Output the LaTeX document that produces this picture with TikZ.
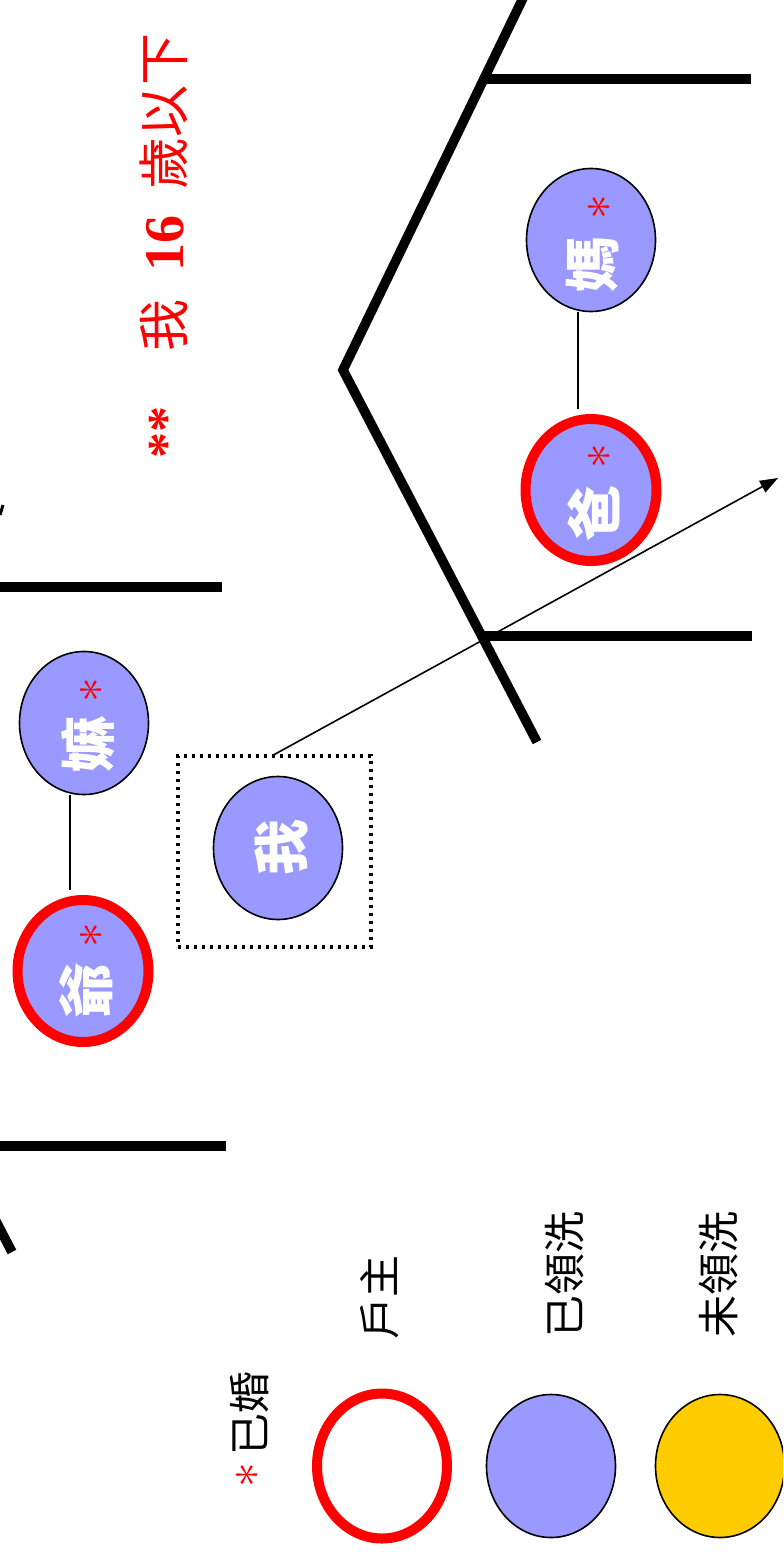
\documentclass[tikz,border=0pt]{standalone}
\usepackage{fontspec}
\usetikzlibrary{shapes.geometric,arrows.meta}
\newfontfamily\cjk{Noto Sans CJK TC}
\newfontfamily\tnr{Liberation Serif}
\definecolor{pblue}{HTML}{9999FF}
\definecolor{pyel}{HTML}{FFCC00}
\definecolor{pred}{HTML}{FF0000}
\begin{document}
\begin{tikzpicture}[x=0.5pt,y=-0.5pt,
 person/.style={ellipse, draw=black, line width=0.8pt, fill=pblue, minimum width=64.5pt, minimum height=71.5pt, inner sep=0pt},
 head/.style={person, draw=pred, line width=5pt, minimum width=65.5pt, minimum height=71pt},
 glyph/.style={rotate=90, text=white, font=\cjk\bfseries\fontsize{28}{28}\selectfont, inner sep=0pt},
 star/.style={rotate=90, text=pred, font=\fontsize{30}{30}\selectfont, inner sep=0pt},
 legtext/.style={rotate=90, font=\cjk\fontsize{21}{21}\selectfont, inner sep=0pt},
 title/.style={rotate=90, text=pred, inner sep=0pt, anchor=base},
 heavy/.style={line width=4.8pt},
 link/.style={line width=0.8pt},
 arr/.style={line width=0.8pt, -{Triangle[length=9pt,width=6.5pt]}},
 dotbox/.style={draw, line width=1.6pt, dash pattern=on 1.6pt off 2.4pt, minimum width=96.5pt, minimum height=95.5pt, inner sep=0pt}
]
\useasboundingbox (0,0) rectangle (783,1552);
\clip (0,0) rectangle (783,1552);
\fill[white] (0,0) rectangle (783,1552);

% heavy frame lines
\draw[heavy] (525,-6) -- (343,370) -- (537,742);
\draw[heavy] (486,79) -- (751,79);
\draw[heavy] (482,636) -- (752,636);
\draw[heavy] (-5,587) -- (222,587);
\draw[heavy] (-5,1146) -- (226,1146);
\draw[heavy] (-12,1206) -- (12,1252);
\draw[line width=1.5pt] (0,515) -- (3,505);

% title
\node[title, font=\tnr\bfseries\fontsize{26}{26}\selectfont] (t1) at (183,432) {**};
\node[title, font=\cjk\fontsize{26}{26}\selectfont] (t2) at (183,325) {我};
\node[title, font=\tnr\bfseries\fontsize{28}{28}\selectfont] (t3) at (183,243) {16};
\node[title, font=\cjk\fontsize{26}{26}\selectfont] (t4) at (183,111) {歲以下};

% people
\node[person] (ma) at (84,723) {};
\node[head] (ye) at (83,971) {};
\node[person] (wo) at (278,848) {};
\node[person] (mom) at (591,240) {};
\node[head] (dad) at (591,490) {};

\node[glyph] (ma-t) at (88,744) {嫲};
\node[star] (ma-s) at (92,690) {$\ast$};
\node[glyph] (ye-t) at (86,990) {爺};
\node[star] (ye-s) at (92,935) {$\ast$};
\node[glyph] (wo-t) at (281,847) {我};
\node[glyph] (mom-t) at (593,264) {媽};
\node[star] (mom-s) at (600,207) {$\ast$};
\node[glyph] (dad-t) at (594,513) {爸};
\node[star] (dad-s) at (600,456) {$\ast$};

\draw[link, shorten >=2.5pt] ([xshift=-7pt]ma.south) -- ([xshift=-6.5pt]ye.north);
\draw[link, shorten >=2.5pt] ([xshift=-6.5pt]mom.south) -- ([xshift=-6.5pt]dad.north);

\node[dotbox] (box) at (274.5,851.5) {};
\coordinate (tip) at (778,478);
\draw[arr] (box.north) -- (tip);

% legend
\node[head, fill=none, minimum width=65pt, minimum height=72.5pt] (lg-head) at (382,1466) {};
\node[person] (lg-bap) at (551,1466) {};
\node[person, fill=pyel] (lg-unb) at (720,1466) {};
\node[star, font=\fontsize{28}{28}\selectfont] (lg-star) at (248,1475) {$\ast$};
\node[legtext] (lg-mar) at (250,1413) {已婚};
\node[legtext] (lg-t1) at (380,1297) {戶主};
\node[legtext] (lg-t2) at (564,1274) {已領洗};
\node[legtext] (lg-t3) at (718,1274) {未領洗};
\end{tikzpicture}
\end{document}
